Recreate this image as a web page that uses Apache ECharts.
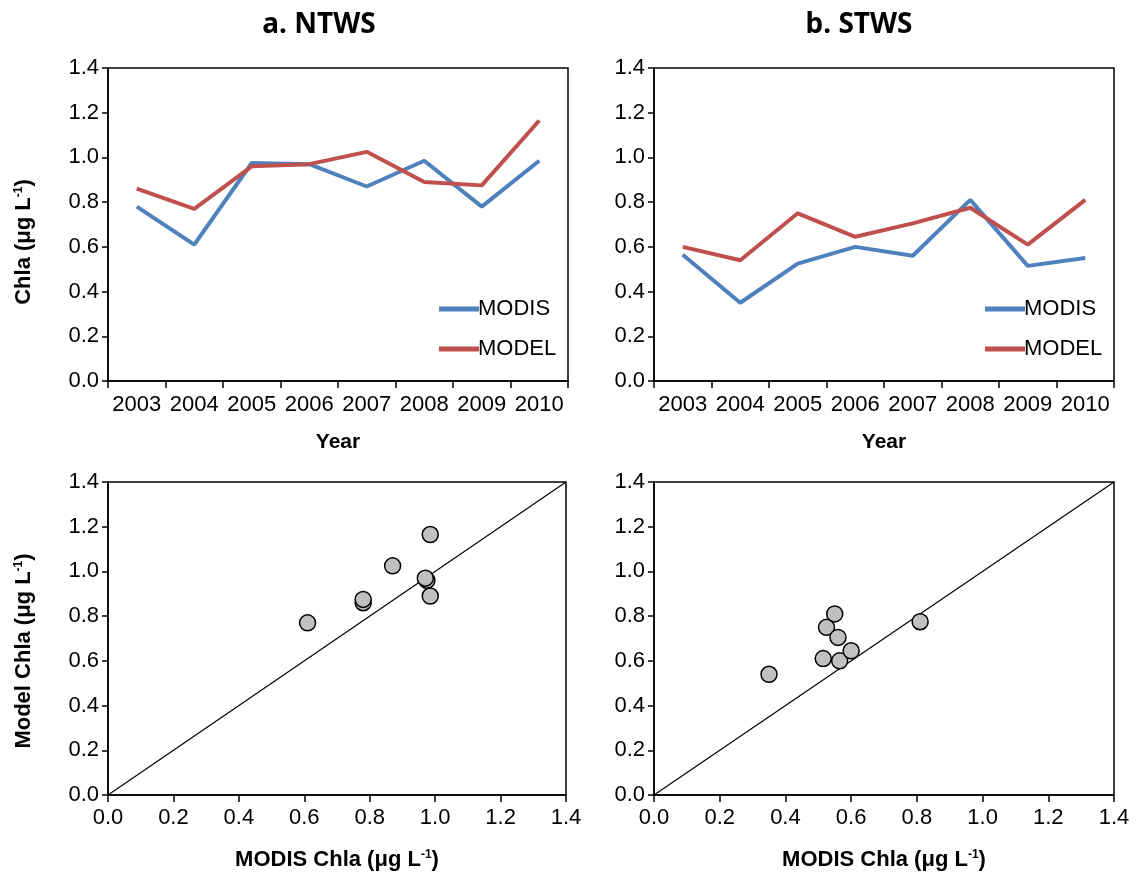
<!DOCTYPE html>
<html>
<head>
<meta charset="utf-8">
<script src="https://cdn.jsdelivr.net/npm/echarts@6/dist/echarts.min.js"></script>
<style>html,body{margin:0;padding:0;background:#fff}#c{width:1142px;height:874px}</style>
</head>
<body>
<div id="c"></div>
<script>
// ---- data ----
const years = ['2003','2004','2005','2006','2007','2008','2009','2010'];
const ntwsModis = [0.78, 0.61, 0.975, 0.97, 0.87, 0.985, 0.78, 0.985];
const ntwsModel = [0.86, 0.77, 0.96, 0.97, 1.025, 0.89, 0.875, 1.165];
const stwsModis = [0.565, 0.35, 0.525, 0.60, 0.56, 0.81, 0.515, 0.55];
const stwsModel = [0.60, 0.54, 0.75, 0.645, 0.705, 0.775, 0.61, 0.81];
const oneToOne = [[0, 0], [1.4, 1.4]];
const panelTitles = ['a. NTWS', 'b. STWS'];

const BLUE = '#4F81BD', RED = '#C0504D';
const FONT = 'Liberation Sans';
const pairs = (xs, ys) => xs.map((x, i) => [x, ys[i]]);

const richName = {
  b: {fontFamily: FONT, fontWeight: 'bold', fontSize: 22, color: '#000'},
  s: {fontFamily: FONT, fontWeight: 'bold', fontSize: 12, color: '#000', verticalAlign: 'top', padding: [0, 0, 10, 0]}
};
const unitName = prefix => '{b|' + prefix + ' (μg L}{s|-1}{b|)}';

const grids = [
  {left: 108, top: 68, width: 460, height: 313},
  {left: 654, top: 68, width: 460, height: 313},
  {left: 108, top: 482, width: 458, height: 313},
  {left: 654, top: 482, width: 460, height: 313}
].map(g => Object.assign({show: true, borderColor: '#000', borderWidth: 1.5, backgroundColor: 'transparent'}, g));

const axisLine = {show: true, onZero: false, lineStyle: {color: '#000', width: 1.5}};
const axisLabel = {fontFamily: FONT, fontSize: 22, color: '#000'};

function valAxis(idx, opts) {
  return Object.assign({
    type: 'value', gridIndex: idx, min: 0, max: 1.4, interval: 0.2,
    axisLine: axisLine,
    axisTick: {show: true, inside: false, length: 6, lineStyle: {color: '#000', width: 1.5}},
    axisLabel: Object.assign({formatter: v => v.toFixed(1), margin: 9}, axisLabel),
    splitLine: {show: false}
  }, opts || {});
}

const xAxes = [0, 1].map(i => ({
  type: 'category', gridIndex: i, data: years, boundaryGap: true,
  axisLine: axisLine,
  axisTick: {show: true, alignWithLabel: false, length: 7, lineStyle: {color: '#000', width: 1.5}},
  axisLabel: Object.assign({margin: 13, interval: 0}, axisLabel),
  name: 'Year', nameLocation: 'middle', nameGap: 51,
  nameTextStyle: {fontFamily: FONT, fontWeight: 'bold', fontSize: 21, color: '#000'}
})).concat([2, 3].map(i => valAxis(i, {
  axisLabel: Object.assign({formatter: v => v.toFixed(1), margin: 12}, axisLabel),
  axisTick: {show: true, length: 7, lineStyle: {color: '#000', width: 1.5}},
  name: unitName('MODIS Chla'), nameLocation: 'middle', nameGap: 54,
  nameTextStyle: {rich: richName}
})));

const yAxes = [0, 1, 2, 3].map(i => valAxis(i));

const lineSeries = (name, data, idx, color) => ({
  name: name, type: 'line', xAxisIndex: idx, yAxisIndex: idx, data: data,
  symbol: 'none', lineStyle: {color: color, width: 4}, itemStyle: {color: color}, z: 3
});
const scatterSeries = (data, idx) => ({
  type: 'scatter', xAxisIndex: idx, yAxisIndex: idx, data: data, symbolSize: 16,
  itemStyle: {color: '#C0C0C0', borderColor: '#000', borderWidth: 1.5, opacity: 1}, z: 4
});
const diagSeries = idx => ({
  type: 'line', xAxisIndex: idx, yAxisIndex: idx, data: oneToOne, symbol: 'none',
  lineStyle: {color: '#000', width: 1.2}, silent: true, z: 2
});

const legendBase = {
  orient: 'vertical', icon: 'rect', itemWidth: 40, itemHeight: 5, itemGap: 18,
  textStyle: {fontFamily: FONT, fontSize: 22, color: '#000', padding: [0, 0, 0, -6]},
  data: ['MODIS', 'MODEL'], selectedMode: false
};

const yNameText = (text, x, y) => ({
  type: 'text', x: x, y: y, rotation: Math.PI / 2, silent: true,
  style: {text: text, rich: richName, align: 'center', verticalAlign: 'middle'}
});

const option = {
  animation: false,
  backgroundColor: '#fff',
  title: [
    {text: panelTitles[0], left: 314, top: 6, textAlign: 'center',
     textStyle: {fontFamily: 'Noto Sans', fontWeight: 'bold', fontSize: 28, color: '#000'}},
    {text: panelTitles[1], left: 854, top: 6, textAlign: 'center',
     textStyle: {fontFamily: 'Noto Sans', fontWeight: 'bold', fontSize: 28, color: '#000'}}
  ],
  legend: [
    Object.assign({left: 434, top: 293}, legendBase),
    Object.assign({left: 980, top: 293}, legendBase)
  ],
  graphic: [
    yNameText(unitName('Chla'), 24, 242),
    yNameText(unitName('Model Chla'), 24, 651)
  ],
  grid: grids,
  xAxis: xAxes,
  yAxis: yAxes,
  series: [
    lineSeries('MODIS', ntwsModis, 0, BLUE),
    lineSeries('MODEL', ntwsModel, 0, RED),
    lineSeries('MODIS', stwsModis, 1, BLUE),
    lineSeries('MODEL', stwsModel, 1, RED),
    diagSeries(2),
    scatterSeries(pairs(ntwsModis, ntwsModel), 2),
    diagSeries(3),
    scatterSeries(pairs(stwsModis, stwsModel), 3)
  ]
};

const chart = echarts.init(document.getElementById('c'), null, {renderer: 'canvas'});
chart.setOption(option);
</script>
</body>
</html>
